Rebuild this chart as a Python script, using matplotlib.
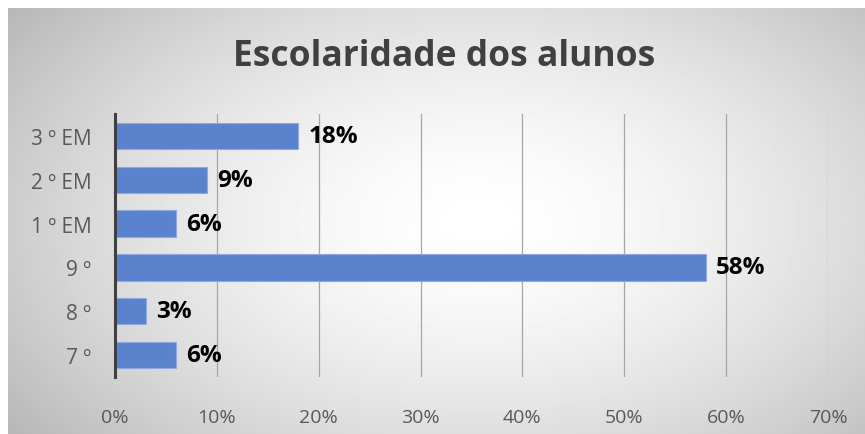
import numpy as np
import matplotlib.pyplot as plt

categories = ['7 º', '8 º', '9 º', '1 º EM', '2 º EM', '3 º EM']
values = [6, 3, 58, 6, 9, 18]
xticks = [0, 10, 20, 30, 40, 50, 60, 70]
xtick_labels = ['0%', '10%', '20%', '30%', '40%', '50%', '60%', '70%']
title = 'Escolaridade dos alunos'

W, H = 865, 435
fig = plt.figure(figsize=(W / 100, H / 100), dpi=100)
fig.patch.set_facecolor('white')

# radial grey gradient panel
bg = fig.add_axes([8 / W, 0, 1 - 8 / W, 1 - 9 / H])
yy, xx = np.mgrid[0:1:300j, 0:1:600j]
r = np.sqrt(((xx - 0.55) / 0.62) ** 2 + ((yy - 0.5) / 0.75) ** 2)
shade = 1.0 - 0.24 * np.clip(r, 0, 1.2) ** 1.6
bg.imshow(shade, cmap='gray', vmin=0, vmax=1, aspect='auto', extent=[0, 1, 0, 1])
bg.axis('off')

ax = fig.add_axes([115 / W, (H - 378) / H, (828 - 115) / W, (378 - 115) / H])
ax.patch.set_alpha(0)
y = np.arange(len(categories))
ax.barh(y, values, height=0.6, color='#5B82CC', edgecolor='#8FA9DC', linewidth=0.8, zorder=3)
ax.set_xlim(0, 70)
ax.set_ylim(-0.5, len(categories) - 0.5)
ax.set_yticks(y)
ax.set_yticklabels(categories, fontsize=15, color='#595959', family='Open Sans')
ax.set_xticks(xticks)
ax.set_xticklabels(xtick_labels, fontsize=14, color='#595959', family='Open Sans')
ax.tick_params(axis='y', length=0, pad=17)
ax.tick_params(axis='x', length=0, pad=22)
ax.grid(axis='x', color='#a6a6a6', linewidth=0.9, zorder=0)
for s in ['top', 'right', 'bottom']:
    ax.spines[s].set_visible(False)
ax.spines['left'].set_color('#404040')
ax.spines['left'].set_linewidth(2.2)
ax.spines['left'].set_zorder(4)

for yi, v in zip(y, values):
    ax.text(v + 1.0, yi, f'{v}%', va='center', ha='left', fontsize=17.5,
            fontweight='bold', family='Open Sans', color='black', zorder=5)

fig.text(444 / W, 1 - 57 / H, title, ha='center', va='center', fontsize=25.5,
         fontweight='bold', family='Open Sans', color='#404040')

fig.savefig('out.png', dpi=100)
